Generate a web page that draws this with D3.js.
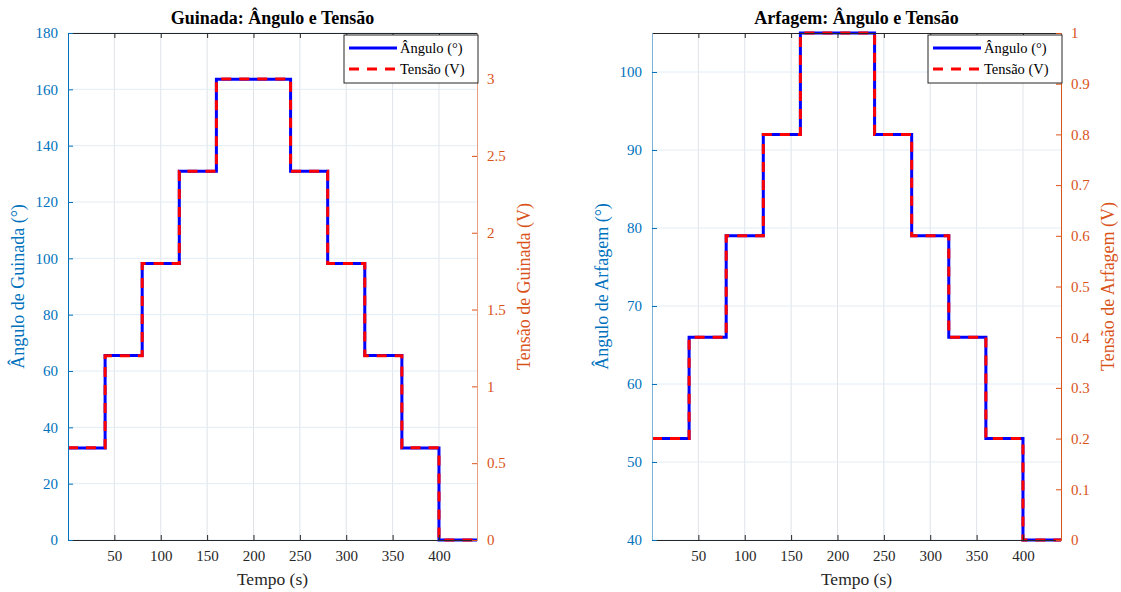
<!DOCTYPE html>
<html>
<head>
<meta charset="utf-8">
<script src="https://cdn.jsdelivr.net/npm/d3@7"></script>
<style>
  body { margin: 0; background: #fff; }
  svg { font-family: "Liberation Serif", "Times New Roman", serif; }
</style>
</head>
<body>
<svg id="chart" width="1121" height="592"></svg>
<script>
// time instants where the step changes (last value = end of record)
const tempo = [0, 40, 80, 120, 160, 240, 280, 320, 360, 400, 441];
const xTicks = [50, 100, 150, 200, 250, 300, 350, 400];

// yaw (guinada)
const anguloGuinada = [32.7, 65.5, 98.2, 130.9, 163.6, 130.9, 98.2, 65.5, 32.7, 0, 0];
const tensaoGuinada = [0.6, 1.2, 1.8, 2.4, 3.0, 2.4, 1.8, 1.2, 0.6, 0, 0];
const ticksAnguloGuinada = [0, 20, 40, 60, 80, 100, 120, 140, 160, 180];
const ticksTensaoGuinada = [0, 0.5, 1, 1.5, 2, 2.5, 3];

// pitch (arfagem)
const anguloArfagem = [53, 66, 79, 92, 105, 92, 79, 66, 53, 40, 40];
const tensaoArfagem = [0.2, 0.4, 0.6, 0.8, 1.0, 0.8, 0.6, 0.4, 0.2, 0, 0];
const ticksAnguloArfagem = [40, 50, 60, 70, 80, 90, 100];
const ticksTensaoArfagem = [0, 0.1, 0.2, 0.3, 0.4, 0.5, 0.6, 0.7, 0.8, 0.9, 1];

const svg = d3.select('#chart');
const blueAx = '#0072BD', orangeAx = '#D95319', dark = '#262626';

function drawPanel(cfg) {
    const left = cfg.left, right = cfg.left + 409, top = 33, bottom = 540;

    const x = d3.scaleLinear().domain([0, 441]).range([left, right]);
    const yL = d3.scaleLinear().domain(cfg.angDomain).range([bottom, top]);
    const yR = d3.scaleLinear().domain(cfg.volDomain).range([bottom, top]);

    const g = svg.append('g');

    // grid
    g.append('g').selectAll('line').data(xTicks).join('line')
        .attr('x1', d => x(d)).attr('x2', d => x(d))
        .attr('y1', top).attr('y2', bottom)
        .attr('stroke', '#dfe3e8').attr('stroke-width', 1);
    g.append('g').selectAll('line').data(cfg.angTicks).join('line')
        .attr('x1', left).attr('x2', right)
        .attr('y1', d => yL(d)).attr('y2', d => yL(d))
        .attr('stroke', '#e3ecf5').attr('stroke-width', 1);

    // lines
    const lineA = d3.line().x((d, i) => x(tempo[i])).y(d => yL(d)).curve(d3.curveStepAfter);
    const lineV = d3.line().x((d, i) => x(tempo[i])).y(d => yR(d)).curve(d3.curveStepAfter);
    g.append('path').attr('d', lineA(cfg.ang))
        .attr('fill', 'none').attr('stroke', '#0000FF').attr('stroke-width', 3);
    g.append('path').attr('d', lineV(cfg.vol))
        .attr('fill', 'none').attr('stroke', '#FF0000').attr('stroke-width', 3)
        .attr('stroke-dasharray', '10,8');

    // bottom / top axes
    const xAxis = g.append('g').attr('transform', `translate(0,${bottom})`)
        .call(d3.axisBottom(x).tickValues(xTicks).tickSizeInner(-5).tickSizeOuter(0).tickPadding(10));
    xAxis.select('.domain').attr('stroke', dark);
    xAxis.selectAll('line').attr('stroke', dark);
    xAxis.selectAll('text').attr('fill', dark).style('font-size', '15px').style('font-family', 'Liberation Serif');
    const xTop = g.append('g').attr('transform', `translate(0,${top})`)
        .call(d3.axisTop(x).tickValues(xTicks).tickSizeInner(-5).tickSizeOuter(0).tickFormat(''));
    xTop.select('.domain').attr('stroke', dark);
    xTop.selectAll('line').attr('stroke', dark);

    // left axis
    const yAxL = g.append('g').attr('transform', `translate(${left},0)`)
        .call(d3.axisLeft(yL).tickValues(cfg.angTicks).tickSizeInner(-5).tickSizeOuter(0).tickPadding(10));
    yAxL.select('.domain').attr('stroke', cfg.leftAxisColor);
    yAxL.selectAll('line').attr('stroke', blueAx);
    yAxL.selectAll('text').attr('fill', blueAx).style('font-size', '15px').style('font-family', 'Liberation Serif');

    // right axis
    const yAxR = g.append('g').attr('transform', `translate(${right},0)`)
        .call(d3.axisRight(yR).tickValues(cfg.volTicks).tickSizeInner(-5).tickSizeOuter(0).tickPadding(10)
            .tickFormat(d => d3.format('~g')(d)));
    yAxR.select('.domain').attr('stroke', cfg.rightAxisColor);
    yAxR.selectAll('line').attr('stroke', orangeAx);
    yAxR.selectAll('text').attr('fill', orangeAx).style('font-size', '15px').style('font-family', 'Liberation Serif');

    // labels
    const cx = (left + right) / 2, cy = (top + bottom) / 2;
    g.append('text').attr('x', cx).attr('y', 24).attr('text-anchor', 'middle')
        .style('font-size', '18px').style('font-weight', 'bold').attr('fill', '#000')
        .text(cfg.title);
    g.append('text').attr('x', cx).attr('y', 585).attr('text-anchor', 'middle')
        .style('font-size', '17.5px').attr('fill', dark).text('Tempo (s)');
    g.append('text').attr('transform', `translate(${left - 44},${cy}) rotate(-90)`)
        .attr('text-anchor', 'middle').style('font-size', '18px').attr('fill', blueAx)
        .text(cfg.angLabel);
    g.append('text').attr('transform', `translate(${right + cfg.rightLabelOffset},${cy}) rotate(-90)`)
        .attr('text-anchor', 'middle').style('font-size', '18px').attr('fill', orangeAx)
        .text(cfg.volLabel);

    // legend
    const lx = right - 133, ly = 35;
    const leg = g.append('g');
    leg.append('rect').attr('x', lx).attr('y', ly).attr('width', 134).attr('height', 48)
        .attr('fill', '#fff').attr('stroke', dark).attr('stroke-width', 1);
    leg.append('line').attr('x1', lx + 5).attr('x2', lx + 53).attr('y1', ly + 13).attr('y2', ly + 13)
        .attr('stroke', '#0000FF').attr('stroke-width', 3);
    leg.append('line').attr('x1', lx + 5).attr('x2', lx + 53).attr('y1', ly + 34).attr('y2', ly + 34)
        .attr('stroke', '#FF0000').attr('stroke-width', 3).attr('stroke-dasharray', '10,8');
    leg.append('text').attr('x', lx + 56).attr('y', ly + 18).style('font-size', '14.5px')
        .attr('fill', '#000').text('Ângulo (°)');
    leg.append('text').attr('x', lx + 56).attr('y', ly + 39).style('font-size', '14.5px')
        .attr('fill', '#000').text('Tensão (V)');
}

drawPanel({
    left: 68, title: 'Guinada: Ângulo e Tensão',
    ang: anguloGuinada, vol: tensaoGuinada,
    angDomain: [0, 180], volDomain: [0, 3.3],
    angTicks: ticksAnguloGuinada, volTicks: ticksTensaoGuinada,
    angLabel: 'Ângulo de Guinada (°)', volLabel: 'Tensão de Guinada (V)',
    leftAxisColor: blueAx, rightAxisColor: '#e8a080', rightLabelOffset: 53
});

drawPanel({
    left: 652, title: 'Arfagem: Ângulo e Tensão',
    ang: anguloArfagem, vol: tensaoArfagem,
    angDomain: [40, 105], volDomain: [0, 1],
    angTicks: ticksAnguloArfagem, volTicks: ticksTensaoArfagem,
    angLabel: 'Ângulo de Arfagem (°)', volLabel: 'Tensão de Arfagem (V)',
    leftAxisColor: '#7ab3dc', rightAxisColor: orangeAx, rightLabelOffset: 53
});
</script>
</body>
</html>
